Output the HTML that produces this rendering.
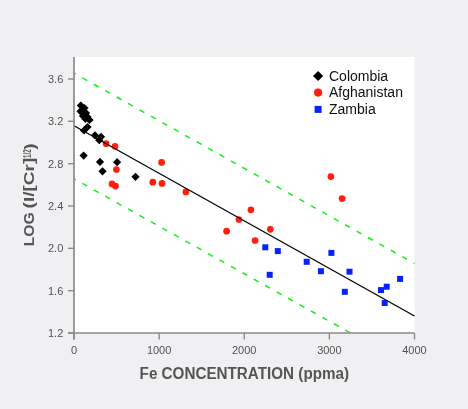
<!DOCTYPE html>
<html><head><meta charset="utf-8"><style>
html,body{margin:0;padding:0;background:#f0f0f2;}
svg{display:block;will-change:transform;}
text{font-family:"Liberation Sans",sans-serif;}
</style></head><body>
<svg width="468" height="409" viewBox="0 0 468 409">
<rect x="0" y="0" width="468" height="409" fill="#f0f0f2"/>
<rect x="74.0" y="57" width="340.5" height="276.0" fill="#ffffff"/>
<g fill="#ff1f0c"><circle cx="106.1" cy="143.70" r="3.35"/><circle cx="115" cy="146.30" r="3.35"/><circle cx="116.4" cy="169.50" r="3.35"/><circle cx="112" cy="183.90" r="3.35"/><circle cx="115.5" cy="186.10" r="3.35"/><circle cx="152.8" cy="182.20" r="3.35"/><circle cx="161.6" cy="162.40" r="3.35"/><circle cx="162" cy="183.40" r="3.35"/><circle cx="185.9" cy="191.90" r="3.35"/><circle cx="226.6" cy="231.20" r="3.35"/><circle cx="238.9" cy="219.50" r="3.35"/><circle cx="250.9" cy="209.80" r="3.35"/><circle cx="255.1" cy="240.50" r="3.35"/><circle cx="270.3" cy="229.30" r="3.35"/><circle cx="330.9" cy="176.60" r="3.35"/><circle cx="342.1" cy="198.60" r="3.35"/></g>
<g fill="#0622ff"><rect x="262.30" y="244.30" width="6" height="6"/><rect x="274.80" y="248.10" width="6" height="6"/><rect x="266.70" y="271.80" width="6" height="6"/><rect x="303.70" y="258.80" width="6" height="6"/><rect x="317.90" y="268.20" width="6" height="6"/><rect x="328.40" y="249.90" width="6" height="6"/><rect x="346.50" y="268.70" width="6" height="6"/><rect x="341.80" y="288.80" width="6" height="6"/><rect x="378.00" y="287.10" width="6" height="6"/><rect x="383.70" y="283.70" width="6" height="6"/><rect x="381.70" y="300.00" width="6" height="6"/><rect x="397.10" y="275.90" width="6" height="6"/></g>
<g fill="#000"><path d="M80.80 101.50L84.90 105.60L80.80 109.70L76.70 105.60Z"/><path d="M84.50 103.90L88.60 108.00L84.50 112.10L80.40 108.00Z"/><path d="M80.50 107.20L84.60 111.30L80.50 115.40L76.40 111.30Z"/><path d="M86.00 108.90L90.10 113.00L86.00 117.10L81.90 113.00Z"/><path d="M87.50 112.90L91.60 117.00L87.50 121.10L83.40 117.00Z"/><path d="M89.50 115.90L93.60 120.00L89.50 124.10L85.40 120.00Z"/><path d="M83.00 111.90L87.10 116.00L83.00 120.10L78.90 116.00Z"/><path d="M85.50 114.90L89.60 119.00L85.50 123.10L81.40 119.00Z"/><path d="M84.00 126.40L88.10 130.50L84.00 134.60L79.90 130.50Z"/><path d="M87.50 122.90L91.60 127.00L87.50 131.10L83.40 127.00Z"/><path d="M95.00 131.20L99.10 135.30L95.00 139.40L90.90 135.30Z"/><path d="M101.00 132.70L105.10 136.80L101.00 140.90L96.90 136.80Z"/><path d="M99.30 136.10L103.40 140.20L99.30 144.30L95.20 140.20Z"/><path d="M83.60 151.50L87.70 155.60L83.60 159.70L79.50 155.60Z"/><path d="M100.00 157.80L104.10 161.90L100.00 166.00L95.90 161.90Z"/><path d="M117.10 158.10L121.20 162.20L117.10 166.30L113.00 162.20Z"/><path d="M102.50 167.20L106.60 171.30L102.50 175.40L98.40 171.30Z"/><path d="M135.50 172.70L139.60 176.80L135.50 180.90L131.40 176.80Z"/></g>
<line x1="74.0" y1="73.2" x2="414.5" y2="263.5" stroke="#12f012" stroke-width="1.5" stroke-dasharray="5.6 7.49" stroke-dashoffset="3.55"/><line x1="74.0" y1="178.8" x2="350.44" y2="333.0" stroke="#12f012" stroke-width="1.5" stroke-dasharray="5.6 7.49" stroke-dashoffset="3.55"/>
<line x1="74.0" y1="125.7" x2="414.5" y2="316.0" stroke="#000" stroke-width="1.25"/>
<g stroke="#8a8a8a" stroke-width="1.4"><line x1="68" y1="79.00" x2="74.0" y2="79.00"/><line x1="68" y1="121.33" x2="74.0" y2="121.33"/><line x1="68" y1="163.67" x2="74.0" y2="163.67"/><line x1="68" y1="206.00" x2="74.0" y2="206.00"/><line x1="68" y1="248.33" x2="74.0" y2="248.33"/><line x1="68" y1="290.67" x2="74.0" y2="290.67"/><line x1="68" y1="333.00" x2="74.0" y2="333.00"/><line x1="74.00" y1="333.0" x2="74.00" y2="339.5"/><line x1="159.12" y1="333.0" x2="159.12" y2="339.5"/><line x1="244.25" y1="333.0" x2="244.25" y2="339.5"/><line x1="329.38" y1="333.0" x2="329.38" y2="339.5"/><line x1="414.50" y1="333.0" x2="414.50" y2="339.5"/></g>
<line x1="74.0" y1="57" x2="74.0" y2="339.5" stroke="#8a8a8a" stroke-width="1.7"/>
<line x1="68" y1="333.0" x2="414.5" y2="333.0" stroke="#8a8a8a" stroke-width="1.7"/>
<g fill="#525252" font-size="11" text-anchor="end"><text x="63.3" y="83.00">3.6</text><text x="63.3" y="125.33">3.2</text><text x="63.3" y="167.67">2.8</text><text x="63.3" y="210.00">2.4</text><text x="63.3" y="252.33">2.0</text><text x="63.3" y="294.67">1.6</text><text x="63.3" y="337.00">1.2</text></g>
<g fill="#525252" font-size="11" text-anchor="middle"><text x="74.00" y="354">0</text><text x="159.12" y="354">1000</text><text x="244.25" y="354">2000</text><text x="329.38" y="354">3000</text><text x="414.50" y="354">4000</text></g>
<text x="139.6" y="378.9" font-size="15.8" font-weight="bold" fill="#555" textLength="209.5" lengthAdjust="spacingAndGlyphs">Fe CONCENTRATION (ppma)</text>
<g transform="translate(34.4,0) rotate(-90)" fill="#555" font-weight="bold">
<text x="-246.3" y="0" font-size="15.3" textLength="34" lengthAdjust="spacingAndGlyphs">LOG</text>
<text x="-208.4" y="0" font-size="15.3" textLength="50.7" lengthAdjust="spacingAndGlyphs">(I/[Cr]</text>
<text x="-158.0" y="-3.2" font-size="10.5" textLength="8.6" lengthAdjust="spacingAndGlyphs">1/2</text>
<text x="-149.8" y="0.3" font-size="15.3" textLength="6.4" lengthAdjust="spacingAndGlyphs">)</text>
</g>
<g font-size="14" fill="#111">
<text x="329" y="80.5">Colombia</text>
<text x="329" y="97.2">Afghanistan</text>
<text x="329" y="113.9">Zambia</text>
</g>
<path d="M318.10 70.90L323.20 76.00L318.10 81.10L313.00 76.00Z" fill="#000"/>
<circle cx="318.1" cy="92.6" r="4.1" fill="#ff1f0c"/>
<rect x="314.6" y="105.9" width="7" height="7" fill="#0622ff"/>
</svg>
</body></html>
